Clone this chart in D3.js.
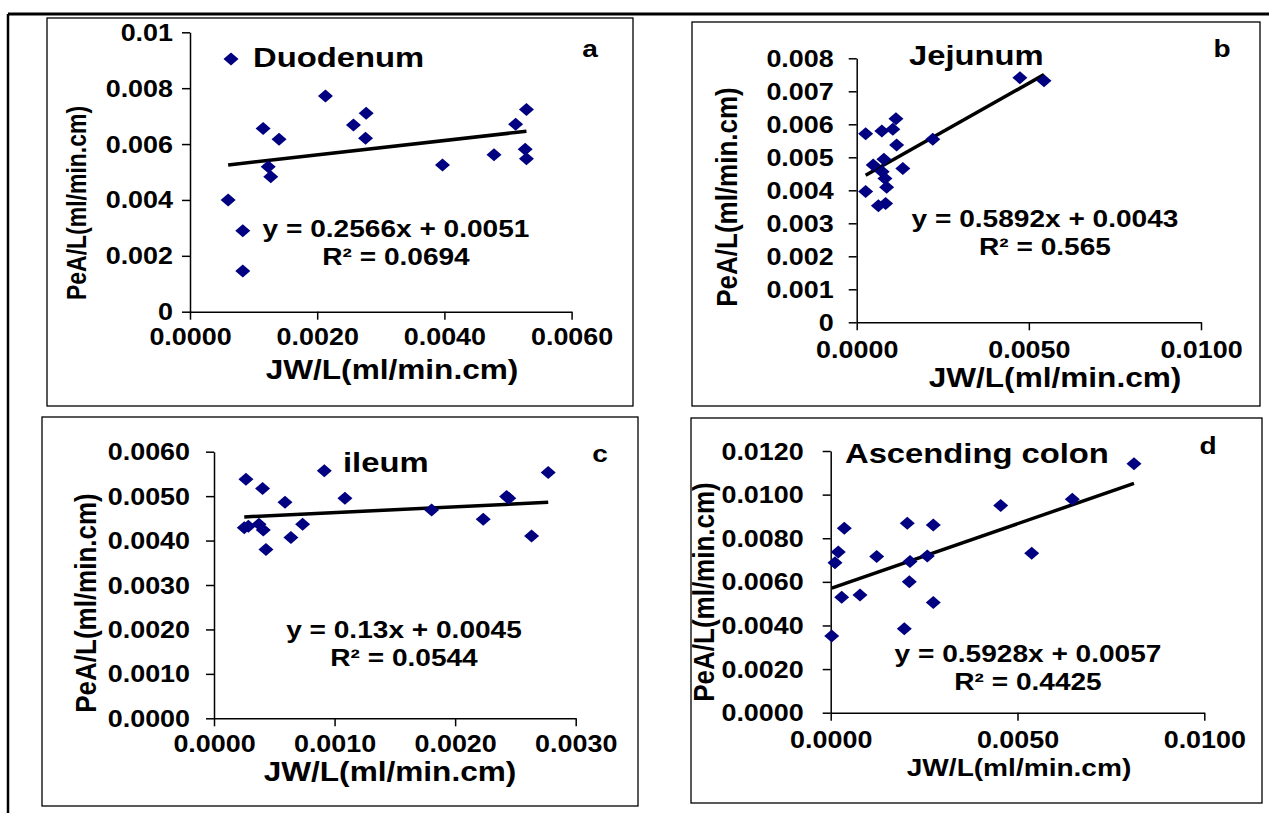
<!DOCTYPE html>
<html>
<head>
<meta charset="utf-8">
<script src="https://cdn.jsdelivr.net/npm/d3@7"></script>
<style>
  body { margin: 0; background: #fff; }
  svg { display: block; }
  text { font-family: "Liberation Sans", Arial, sans-serif; font-weight: bold; fill: #000; }
</style>
</head>
<body>
<svg id="chart" width="1269" height="813"></svg>
<script>
  'use strict';

  // values
  var duodenumX = [0.00060, 0.00083, 0.00083, 0.00115, 0.00123, 0.00127, 0.00140, 0.00213, 0.00257,
                   0.00277, 0.00276, 0.00397, 0.00478, 0.00512, 0.00529, 0.00527, 0.00529];
  var duodenumY = [0.00400, 0.00290, 0.00146, 0.00656, 0.00519, 0.00483, 0.00617, 0.00772, 0.00668,
                   0.00710, 0.00621, 0.00525, 0.00562, 0.00671, 0.00724, 0.00581, 0.00547];

  var jejunumX = [0.00026, 0.00073, 0.00105, 0.00114, 0.00116, 0.00134, 0.00048, 0.00079, 0.00074,
                  0.00082, 0.00087, 0.00026, 0.00063, 0.00084, 0.00221, 0.00474, 0.00544];
  var jejunumY = [0.00571, 0.00580, 0.00585, 0.00617, 0.00537, 0.00466, 0.00477, 0.00494, 0.00456,
                  0.00436, 0.00409, 0.00396, 0.00353, 0.00360, 0.00555, 0.00741, 0.00732];

  var ileumX = [0.000265, 0.000251, 0.000285, 0.000373, 0.000403, 0.000409, 0.000431, 0.000589, 0.000638,
                0.000735, 0.000915, 0.001086, 0.001805, 0.002233, 0.002427, 0.002445, 0.002634, 0.002772];
  var ileumY = [0.00538, 0.00429, 0.00432, 0.00437, 0.00517, 0.00424, 0.00380, 0.00486, 0.00407,
                0.00437, 0.00557, 0.00495, 0.00469, 0.00448, 0.00499, 0.00495, 0.00410, 0.00553];

  var colonX = [0.000027, 0.000115, 0.000203, 0.000294, 0.000364, 0.000784, 0.001231, 0.00197, 0.00205,
                0.002104, 0.002123, 0.002586, 0.002746, 0.002746, 0.00455, 0.00538, 0.006467, 0.008118];
  var colonY = [0.00352, 0.00688, 0.00737, 0.00529, 0.00846, 0.00540, 0.00716, 0.00385, 0.00869,
                0.00601, 0.00693, 0.00719, 0.00861, 0.00505, 0.00950, 0.00731, 0.00979, 0.01141];

  var panelNames = ['Duodenum', 'Jejunum', 'ileum', 'Ascending colon'];
  var panelLetters = ['a', 'b', 'c', 'd'];
  var trendSlope = [0.2566, 0.5892, 0.13, 0.5928];
  var trendIntercept = [0.0051, 0.0043, 0.0045, 0.0057];
  var eqLabels = ['y = 0.2566x + 0.0051', 'y = 0.5892x + 0.0043', 'y = 0.13x + 0.0045', 'y = 0.5928x + 0.0057'];
  var r2Labels = ['R² = 0.0694', 'R² = 0.565', 'R² = 0.0544', 'R² = 0.4425'];

  var xTicksA = [0, 0.002, 0.004, 0.006];
  var xLabelsA = ['0.0000', '0.0020', '0.0040', '0.0060'];
  var yTicksA = [0, 0.002, 0.004, 0.006, 0.008, 0.01];
  var yLabelsA = ['0', '0.002', '0.004', '0.006', '0.008', '0.01'];
  var xTicksB = [0, 0.005, 0.01];
  var xLabelsB = ['0.0000', '0.0050', '0.0100'];
  var yTicksB = [0, 0.001, 0.002, 0.003, 0.004, 0.005, 0.006, 0.007, 0.008];
  var yLabelsB = ['0', '0.001', '0.002', '0.003', '0.004', '0.005', '0.006', '0.007', '0.008'];
  var xTicksC = [0, 0.001, 0.002, 0.003];
  var xLabelsC = ['0.0000', '0.0010', '0.0020', '0.0030'];
  var yTicksC = [0, 0.001, 0.002, 0.003, 0.004, 0.005, 0.006];
  var yLabelsC = ['0.0000', '0.0010', '0.0020', '0.0030', '0.0040', '0.0050', '0.0060'];
  var xTicksD = [0, 0.005, 0.01];
  var xLabelsD = ['0.0000', '0.0050', '0.0100'];
  var yTicksD = [0, 0.002, 0.004, 0.006, 0.008, 0.01, 0.012];
  var yLabelsD = ['0.0000', '0.0020', '0.0040', '0.0060', '0.0080', '0.0100', '0.0120'];

  var xTitle = 'JW/L(ml/min.cm)';
  var yTitle = 'PeA/L(ml/min.cm)';

  // the picture is a bit wider than its fonts
  var SX = 1.17;
  var navy = '#000080';

  var panels = [
    { xs: duodenumX, ys: duodenumY, box: [47, 18, 633, 406], xr: [190, 571.6], yr: [311.7, 32.3],
      xd: [0, 0.006], yd: [0, 0.01], xt: xTicksA, xl: xLabelsA, yt: yTicksA, yl: yLabelsA,
      yLabelGap: 17, xLabelY: 33,
      title: [253, 67], legend: true, letter: [590, 57], eq: [396, 237],
      xTitleX: 392, xTitleSize: 27, xTitleY: 67, yTitle: [86, 203], yTitleSize: 23 },
    { xs: jejunumX, ys: jejunumY, box: [692, 22, 1260, 406], xr: [856.7, 1201], yr: [322.3, 58.3],
      xd: [0, 0.01], yd: [0, 0.008], xt: xTicksB, xl: xLabelsB, yt: yTicksB, yl: yLabelsB,
      yLabelGap: 23, xLabelY: 36,
      title: [909, 65], letter: [1222, 57], eq: [1045, 227],
      xTitleX: 1055, xTitleSize: 27, xTitleY: 65, yTitle: [737, 197], yTitleSize: 26 },
    { xs: ileumX, ys: ileumY, box: [42, 417, 638, 806], xr: [214, 575.7], yr: [718.3, 451.7],
      xd: [0, 0.003], yd: [0, 0.006], xt: xTicksC, xl: xLabelsC, yt: yTicksC, yl: yLabelsC,
      yLabelGap: 24, xLabelY: 34,
      title: [343, 472], letter: [600, 462], eq: [404, 638],
      xTitleX: 390, xTitleSize: 27, xTitleY: 63, yTitle: [96, 603], yTitleSize: 26 },
    { xs: colonX, ys: colonY, box: [691, 418, 1262, 803], xr: [830.7, 1204.3], yr: [712.7, 451],
      xd: [0, 0.01], yd: [0, 0.012], xt: xTicksD, xl: xLabelsD, yt: yTicksD, yl: yLabelsD,
      yLabelGap: 27, xLabelY: 35,
      title: [845, 463], letter: [1208, 454], eq: [1028, 662],
      xTitleX: 1019, xTitleSize: 24, xTitleY: 63, yTitle: [714, 592], yTitleSize: 26 }
  ];

  var svg = d3.select('#chart');

  function label(g, str, x, y, size, anchor) {
    return g.append('text')
      .attr('transform', 'translate(' + x + ',' + y + ') scale(' + SX + ',1)')
      .attr('text-anchor', anchor || 'start')
      .style('font-size', size + 'px')
      .text(str);
  }

  function diamond(w, h) {
    return 'M0,' + (-h) + 'L' + w + ',0L0,' + h + 'L' + (-w) + ',0Z';
  }

  // outer frame
  svg.append('line').attr('x1', 8).attr('y1', 14).attr('x2', 1269).attr('y2', 14)
    .attr('stroke', '#000').attr('stroke-width', 3);
  svg.append('line').attr('x1', 8).attr('y1', 14).attr('x2', 8).attr('y2', 813)
    .attr('stroke', '#000').attr('stroke-width', 2.5);

  panels.forEach(function (p, k) {
    var g = svg.append('g').attr('class', 'panel');
    var x = d3.scaleLinear().domain(p.xd).range(p.xr);
    var y = d3.scaleLinear().domain(p.yd).range(p.yr);

    g.append('rect')
      .attr('x', p.box[0]).attr('y', p.box[1])
      .attr('width', p.box[2] - p.box[0]).attr('height', p.box[3] - p.box[1])
      .attr('fill', '#fff').attr('stroke', '#000').attr('stroke-width', 1.3);

    var xAxis = d3.axisBottom(x).tickValues(p.xt)
      .tickFormat(function (d, i) { return p.xl[i]; })
      .tickSize(8).tickSizeOuter(0);
    var yAxis = d3.axisLeft(y).tickValues(p.yt)
      .tickFormat(function (d, i) { return p.yl[i]; })
      .tickSize(8).tickSizeOuter(0);

    g.append('g').attr('transform', 'translate(0,' + p.yr[0] + ')').call(xAxis)
      .call(function (a) {
        a.select('.domain').attr('stroke', '#000').attr('stroke-width', 1.5);
        a.selectAll('.tick line').attr('stroke', '#000').attr('stroke-width', 1.5);
        a.selectAll('.tick text').attr('y', null).attr('dy', null)
          .attr('transform', 'translate(0,' + p.xLabelY + ') scale(' + SX + ',1)')
          .style('font-size', '23px');
      });

    g.append('g').attr('transform', 'translate(' + p.xr[0] + ',0)').call(yAxis)
      .call(function (a) {
        a.select('.domain').attr('stroke', '#000').attr('stroke-width', 1.5);
        a.selectAll('.tick line').attr('stroke', '#000').attr('stroke-width', 1.5);
        a.selectAll('.tick text').attr('x', null).attr('dy', null)
          .attr('transform', 'translate(' + (-p.yLabelGap) + ',8) scale(' + SX + ',1)')
          .style('font-size', '23px');
      });

    // axis titles
    label(g, xTitle, p.xTitleX, p.yr[0] + p.xTitleY, p.xTitleSize, 'middle');
    g.append('text')
      .attr('transform', 'translate(' + p.yTitle[0] + ',' + p.yTitle[1] + ') scale(' + SX + ',1) rotate(-90)')
      .attr('text-anchor', 'middle')
      .style('font-size', p.yTitleSize + 'px')
      .text(yTitle);

    // trendline over the data range
    var ext = d3.extent(p.xs);
    g.append('line')
      .attr('x1', x(ext[0])).attr('y1', y(trendSlope[k] * ext[0] + trendIntercept[k]))
      .attr('x2', x(ext[1])).attr('y2', y(trendSlope[k] * ext[1] + trendIntercept[k]))
      .attr('stroke', '#000').attr('stroke-width', 3.5);

    g.selectAll('path.dot')
      .data(p.xs.map(function (v, i) { return [v, p.ys[i]]; }))
      .enter()
      .append('path')
        .attr('class', 'dot')
        .attr('d', diamond(7.5, 6.5))
        .attr('transform', function (d) { return 'translate(' + x(d[0]) + ',' + y(d[1]) + ')'; })
        .attr('fill', navy);

    if (p.legend) {
      g.append('path').attr('d', diamond(7.5, 6.5))
        .attr('transform', 'translate(' + (p.title[0] - 22) + ',' + (p.title[1] - 8) + ')')
        .attr('fill', navy);
    }
    label(g, panelNames[k], p.title[0], p.title[1], 28);
    label(g, panelLetters[k], p.letter[0], p.letter[1], 24, 'middle');
    label(g, eqLabels[k], p.eq[0], p.eq[1], 24, 'middle');
    label(g, r2Labels[k], p.eq[0], p.eq[1] + 28, 24, 'middle');
  });
</script>
</body>
</html>
